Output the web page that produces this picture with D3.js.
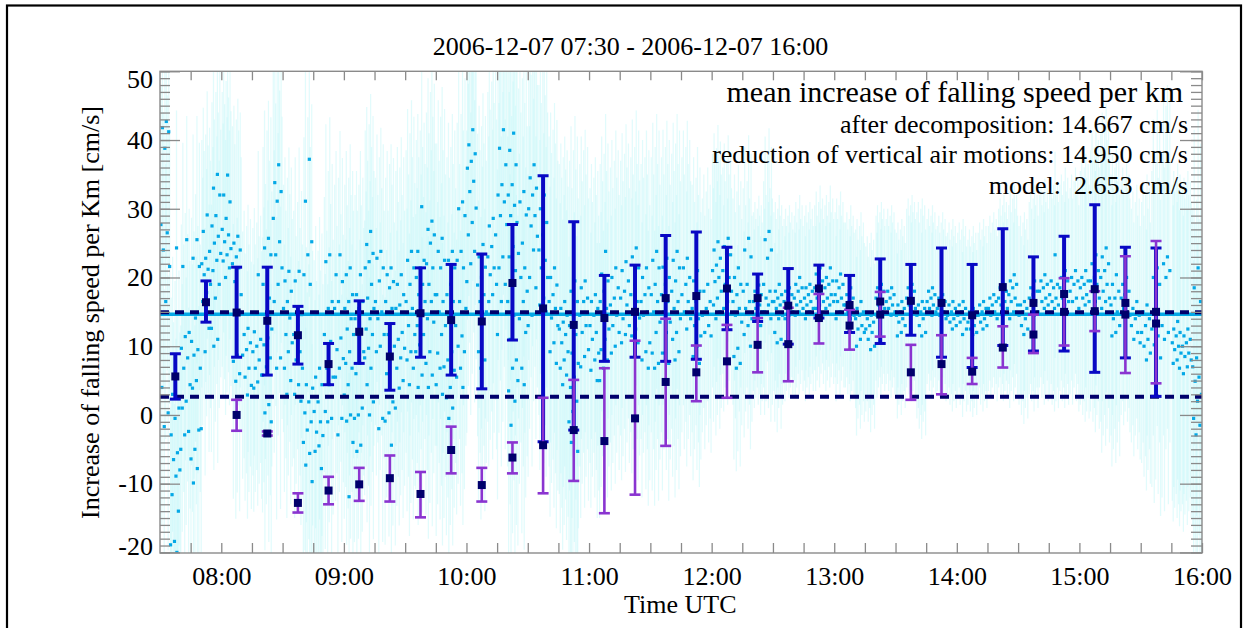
<!DOCTYPE html>
<html>
<head>
<meta charset="utf-8">
<script src="https://cdn.jsdelivr.net/npm/d3@7"></script>
<style>
  html, body { margin: 0; padding: 0; background: #fff; }
  svg { display: block; font-family: "Liberation Serif", "Times New Roman", serif; }
</style>
</head>
<body>
<svg id="chart" width="1253" height="628"></svg>
<script>
// reference lines (cm/s per km)
const meanDecomposition = 14.667;
const meanReduction = 14.950;
const meanModel = 2.653;

// 15-minute bins
const binTimes = ['07:37:30', '07:52:30', '08:07:30', '08:22:30', '08:37:30', '08:52:30', '09:07:30', '09:22:30',
    '09:37:30', '09:52:30', '10:07:30', '10:22:30', '10:37:30', '10:52:30', '11:07:30', '11:22:30', '11:37:30',
    '11:52:30', '12:07:30', '12:22:30', '12:37:30', '12:52:30', '13:07:30', '13:22:30', '13:37:30', '13:52:30',
    '14:07:30', '14:22:30', '14:37:30', '14:52:30', '15:07:30', '15:22:30', '15:37:30'];

const blueMean = [5.6, 16.4, 14.9, 13.7, 11.6, 7.4, 12.1, 8.5, 14.8, 13.8, 13.6, 19.2, 15.5, 13.1, 14.1, 15.0, 17.0,
    17.3, 18.4, 17.0, 15.9, 18.4, 16.0, 16.5, 16.6, 16.3, 14.5, 18.6, 16.3, 17.6, 18.3, 16.3, 15.0];
const blueHigh = [8.9, 19.5, 21.5, 21.5, 15.8, 10.4, 16.6, 13.3, 21.4, 21.9, 23.4, 27.7, 34.8, 28.1, 20.3, 21.8, 26.1,
    26.6, 24.4, 20.5, 21.3, 21.8, 20.3, 22.7, 21.9, 24.3, 21.9, 27.1, 23.0, 26.0, 30.6, 24.4, 24.3];
const blueLow = [2.3, 13.5, 8.4, 5.8, 7.4, 4.4, 7.5, 3.6, 8.4, 5.8, 3.8, 10.9, -3.9, -2.2, 7.8, 8.4, 7.8,
    8.1, 12.4, 13.6, 10.3, 14.1, 12.0, 10.4, 11.6, 8.4, 6.9, 10.1, 9.3, 9.3, 6.2, 8.3, 2.7];

const purpleMean = [null, null, 0.0, -2.7, -12.8, -11.0, -10.1, -9.2, -11.5, -5.1, -10.2, -6.2, -4.4, -2.2, -3.8, -0.5,
    4.8, 6.2, 7.8, 10.2, 10.3, 14.1, 13.0, 14.6, 6.2, 7.4, 6.3, 9.8, 11.7, 15.0, 15.1, 14.6, 13.3];
const purpleHigh = [null, null, 2.2, -2.4, -11.4, -9.0, -7.7, -5.9, -8.3, -1.7, -7.7, -4.0, 2.5, 5.1, 6.8, 10.8,
    14.0, 10.1, 13.1, 14.1, 15.6, 17.6, 15.3, 17.9, 10.2, 11.6, 8.3, 12.9, 14.6, 19.9, 18.0, 23.1, 25.3];
const purpleLow = [null, null, -2.3, -3.0, -14.2, -13.0, -12.5, -12.6, -14.9, -8.5, -12.6, -8.5, -11.4, -9.6, -14.3, -11.6,
    -4.5, 2.0, 2.5, 6.2, 4.9, 10.4, 9.5, 11.4, 2.2, 3.0, 4.5, 6.9, 9.0, 10.1, 12.2, 6.1, 4.6];

// single measurements, grouped in 5-minute slots starting 07:30
const scatterStart = '07:30:00';
const scatterSlotMinutes = 5;
const scatterValues = [
    [42.7, 41.8, 41.2, 38.8, 27.7, 26.5, 24.0, 21.6, 16.5, 4.0, 0.3, -1.7],
    [24.3, 3.0, 1.0, -0.5, -2.9, -5.5, -6.5, -8.0, -8.9, -11.6, -14.0, -18.4, -18.9, -20.0],
    [25.5, 21.6, 12.0, 11.4, 9.7, 8.3, 6.8, 4.4, 2.0, 1.0, -2.4, -2.9, -5.0],
    [25.5, 22.8, 21.6, 14.1, 10.7, 9.5, 8.7, 6.8, 5.0, 3.9, -2.2, -5.0, -6.4, -7.8, -9.9],
    [29.1, 26.7, 23.8, 22.8, 22.0, 21.2, 20.4, 19.0, 17.8, 16.5, 12.6, 9.2, -2.0],
    [35.0, 33.0, 32.0, 29.0, 27.5, 26.0, 25.0, 23.5, 22.5, 21.0, 19.0, 17.0, 12.6, 11.0, 10.0],
    [34.9, 32.0, 31.0, 28.6, 27.0, 26.2, 25.2, 24.2, 23.3, 22.4, 21.4, 20.0],
    [26.0, 25.0, 24.0, 23.0, 22.0, 21.4, 19.4, 17.5, 8.7, 7.8, 6.0, 4.9],
    [12.6, 11.7, 10.5, 9.5, 8.7, 6.8, 5.5, 4.3, 2.9],
    [20.4, 12.1, 11.0, 10.0, 9.2, 8.0, 6.8, 5.8, 4.8, 3.9],
    [25.7, 24.3, 23.3, 21.4, 19.0, 17.0, 13.6, 12.5, 11.2, 10.2, 8.3, 7.0, 5.8, 1.5, 0.3, -1.0],
    [36.4, 33.8, 32.5, 31.1, 28.6, 25.2, 23.3, 21.4, 19.0, 16.5, 8.3, 6.8],
    [20.9, 19.5, 18.0, 16.5, 15.5, 14.1, 11.7, 10.5, 9.2, 6.8, 5.0, 3.0],
    [20.9, 19.5, 14.6, 13.0, 11.7, 9.2, 8.0, 6.8, 4.4, 3.0, 2.0],
    [37.2, 31.1, 25.2, 23.3, 20.4, 19.0, 4.4, 3.9, 1.9, 0.3, -1.0, -2.2, -4.0, -5.6, -7.3, -9.7],
    [6.8, 5.5, 4.4, 1.9, 0.5, -1.0, -2.5, -3.0, -4.5, -5.3, -7.8],
    [23.3, 22.3, 16.5, 15.5, 11.7, 10.7, 6.8, 5.5, 4.4, 0.5, -0.5, -1.0],
    [23.3, 20.4, 19.4, 16.5, 15.5, 11.2, 9.5, 8.2, 6.8, 5.5, -0.5, -2.9],
    [21.4, 20.4, 17.5, 16.5, 15.5, 14.0, 12.5, 11.7, 9.2, 7.5, 6.8, 4.4, 2.9, 0.0, -0.9, -4.0, -11.9],
    [20.4, 17.5, 16.5, 15.5, 14.0, 12.5, 11.7, 9.2, 7.5, 6.0, 1.0, 0.0, -0.5, -4.4, -5.3],
    [26.7, 24.8, 23.5, 22.3, 21.4, 19.0, 17.0, 15.5, 14.0, 12.5, 11.7, 9.7, 8.3, 6.8, 4.4, 1.9, 0.0],
    [23.8, 22.8, 21.4, 19.5, 16.5, 15.0, 14.0, 11.7, 10.0, 9.2, -0.5, -2.0],
    [21.4, 20.4, 19.4, 18.5, 16.5, 15.5, 11.7, 10.0, 8.5, 6.0, 1.9, 0.3, -0.9, -4.4],
    [20.4, 19.0, 17.5, 16.0, 15.5, 12.0, 11.0, 9.7, 8.3, 6.8, 5.0, 3.9, 1.0],
    [23.8, 22.5, 21.4, 19.0, 16.5, 15.5, 13.0, 11.7, 9.2, 8.0, 6.8, 4.4],
    [30.3, 23.8, 22.5, 21.4, 20.0, 19.0, 17.5, 16.5, 15.0, 13.0, 11.7, 10.2, 9.2, 5.8, 4.0],
    [28.2, 27.0, 26.2, 25.0, 22.0, 21.4, 19.0, 17.5, 16.5, 14.0, 13.5, 9.2, 7.5, 5.8, 4.0],
    [25.7, 23.8, 22.5, 21.4, 17.5, 16.5, 15.0, 13.0, 11.7, 9.0, 7.0, 6.8, 4.4, 3.0],
    [23.8, 22.5, 21.4, 19.0, 17.5, 16.5, 14.5, 13.0, 9.2, 8.0, 6.5, 4.0, 2.5, 1.0, -0.5],
    [31.0, 30.0, 29.0, 23.8, 22.5, 21.4, 16.5, 15.5, 11.5, 10.0, 9.2, 6.8, 5.5, 4.0],
    [41.5, 39.3, 38.0, 36.9, 35.9, 34.0, 32.5, 30.1, 28.0, 26.2, 23.8, 22.0, 19.4],
    [24.8, 23.0, 21.5, 20.0, 18.9, 17.5, 16.5, 15.0, 14.1, 9.2, 8.0, 6.8],
    [28.6, 27.5, 26.2, 24.5, 23.0, 21.4, 20.4, 19.0, 17.5, 16.5],
    [41.5, 38.8, 36.4, 33.5, 32.0, 31.0, 29.0, 27.7, 23.0, 21.4, 19.0, 16.5, 11.7],
    [41.0, 38.5, 36.4, 33.5, 32.0, 30.5, 29.0, 28.0, 24.5, 23.0, 21.0, 19.5, 16.5, 14.5, 11.0, 8.0, 6.8, 3.5, 2.0, -1.5],
    [32.5, 31.0, 29.1, 25.0, 23.5, 21.4, 20.0, 18.0, 16.5, 14.0, 12.0, 6.8, 5.0, 4.4],
    [36.4, 34.5, 33.0, 32.0, 30.0, 29.0, 27.5, 26.0, 24.0, 20.0, 18.5, 14.5, 13.0],
    [32.0, 30.0, 28.0, 26.2, 24.0, 22.5, 21.4, 20.0, 17.0, 16.0, 15.0],
    [21.4, 20.0, 18.9, 17.5, 16.5, 15.5, 14.1, 13.0, 10.5, 9.2, 7.5],
    [16.5, 15.5, 14.5, 13.5, 12.5, 11.7, 10.5, 9.2, 8.0, 6.8, 5.8, 4.4],
    [19.5, 18.0, 16.5, 14.5, 13.0, 11.7, 9.0, 7.5, 5.5, 4.0, 2.0, 0.5, -1.0, -2.5, -4.0, -5.3],
    [19.5, 18.5, 17.0, 16.5, 14.5, 13.0, 12.0, 9.5, 8.5, 7.0],
    [17.5, 16.5, 15.5, 14.5, 13.0, 12.0, 11.0, 9.0, 8.0, 6.5, 5.0],
    [23.8, 20.5, 19.5, 18.0, 16.5, 15.5, 14.0, 12.5, 11.0, 9.5, 8.0, 6.8, 5.0],
    [21.4, 20.0, 18.5, 17.0, 16.0, 14.5, 13.0, 12.0, 10.0, 9.0],
    [22.3, 21.0, 19.5, 18.0, 17.0, 16.0, 14.0, 13.0, 11.7, 10.5],
    [24.3, 23.0, 21.4, 19.0, 17.5, 16.5, 15.0, 14.1, 12.5, 11.5, 10.5],
    [21.4, 20.0, 18.5, 17.5, 16.5, 15.0, 14.5, 10.5, 9.2, 8.0, 6.8],
    [23.8, 22.5, 21.4, 19.0, 17.5, 16.5, 15.0, 13.5, 12.0, 9.0, 7.5, 6.8],
    [22.8, 21.5, 20.0, 19.0, 17.5, 16.5, 15.0, 13.5, 12.0, 9.0, 7.5],
    [23.8, 22.5, 21.4, 19.5, 18.0, 16.5, 15.5, 14.0, 12.0, 11.0, 9.2, 8.0],
    [22.8, 21.4, 20.0, 19.0, 17.5, 16.5, 15.0, 14.0, 12.5],
    [21.0, 19.5, 18.0, 16.5, 15.5, 14.0, 13.0, 11.5, 10.0, 8.5, 7.5],
    [19.0, 18.0, 16.5, 15.5, 14.5, 13.0, 12.0, 11.5],
    [25.2, 24.0, 22.8, 21.8, 21.0, 20.0, 19.4, 18.0, 17.0, 16.0, 15.0, 14.0],
    [25.7, 24.5, 23.3, 22.0, 21.0, 20.0, 19.0, 18.0, 16.5, 15.5],
    [21.4, 20.0, 19.0, 17.5, 16.5, 15.5, 14.5, 13.5, 9.7, 8.5, 7.5, 6.8],
    [25.7, 24.0, 23.0, 19.0, 18.0, 16.5, 15.5, 14.0, 13.0, 11.7, 10.0],
    [18.9, 18.0, 17.5, 17.0, 16.5, 16.0, 15.5, 15.0, 14.5, 14.0, 13.0],
    [26.7, 25.5, 24.0, 22.8, 19.0, 18.0, 17.0, 16.5, 16.0, 15.0, 14.0],
    [19.0, 18.0, 17.5, 17.0, 16.5, 16.0, 15.5, 14.5, 14.0, 12.0, 11.0, 10.5],
    [18.5, 18.0, 17.5, 17.0, 16.5, 16.0, 15.5, 15.0, 14.5, 14.0],
    [20.0, 19.0, 18.5, 18.0, 17.0, 16.5, 16.0, 15.5, 15.0, 14.5],
    [19.0, 18.5, 18.0, 17.5, 17.0, 16.5, 16.0, 15.5, 15.0, 14.0],
    [21.4, 20.5, 19.5, 19.0, 18.5, 18.0, 17.0, 16.5, 16.0, 15.5],
    [21.4, 20.0, 19.5, 19.0, 18.5, 17.5, 17.0, 16.5, 16.0, 15.5],
    [20.5, 19.5, 19.0, 18.5, 17.5, 17.0, 16.5, 16.0, 15.0, 14.0],
    [18.5, 17.5, 17.0, 16.5, 16.0, 15.5, 15.0, 14.5, 14.0],
    [16.5, 15.5, 15.0, 14.5, 14.0, 13.0, 12.5, 12.0, 11.0, 10.0],
    [14.5, 14.0, 13.5, 13.0, 12.5, 12.0, 11.0, 10.0, 9.5],
    [19.0, 18.5, 18.0, 17.5, 17.0, 16.5, 16.0, 15.5, 15.0, 14.5],
    [18.5, 18.0, 17.5, 17.0, 16.5, 16.0, 15.5, 15.0, 14.5],
    [16.5, 16.0, 15.5, 15.0, 14.5, 14.0, 13.5, 13.0, 12.0, 11.5],
    [19.0, 18.5, 18.0, 17.5, 17.0, 16.5, 16.0, 15.5, 15.0],
    [16.5, 16.0, 15.5, 15.0, 14.5, 14.0, 13.0, 12.0, 11.5],
    [18.5, 18.0, 17.5, 17.0, 16.5, 16.0, 15.5, 15.0, 14.5],
    [17.5, 17.0, 16.5, 16.0, 15.5, 15.0, 14.5, 14.0],
    [16.5, 16.0, 15.5, 15.0, 14.5, 14.0, 13.5, 13.0, 12.5],
    [16.5, 16.0, 15.5, 15.0, 14.5, 14.0, 13.5, 12.5, 11.7],
    [15.5, 15.0, 14.5, 14.0, 13.5, 13.0, 12.5, 12.0, 11.7],
    [16.5, 16.0, 15.5, 15.0, 14.5, 14.0, 13.5, 13.0, 12.5],
    [17.5, 17.0, 16.5, 16.0, 15.5, 15.0, 14.5, 14.0],
    [19.0, 18.5, 18.0, 17.5, 17.0, 16.5, 16.0, 15.5, 15.0],
    [20.4, 19.5, 19.0, 18.5, 17.5, 17.0, 16.5, 16.0, 15.0, 14.0],
    [16.5, 16.0, 15.5, 15.0, 14.5, 14.0, 13.0, 12.5, 11.7],
    [19.5, 18.5, 18.0, 17.5, 17.0, 16.5, 16.0, 15.0, 14.5],
    [20.4, 19.5, 19.0, 18.5, 18.0, 17.0, 16.5, 16.0, 15.5],
    [23.3, 19.5, 19.0, 18.5, 17.5, 17.0, 16.5, 16.0, 15.5],
    [21.0, 20.0, 19.5, 19.0, 18.5, 17.5, 17.0, 16.5, 16.0],
    [21.0, 20.0, 19.5, 19.0, 18.0, 17.0, 16.5, 15.5],
    [21.0, 20.0, 19.5, 19.0, 18.5, 17.5, 17.0, 16.5, 16.0],
    [23.3, 22.0, 21.0, 20.0, 19.5, 19.0, 18.0, 17.0, 16.5],
    [24.3, 23.0, 22.0, 21.0, 20.0, 19.0, 18.0, 17.0, 16.5, 15.5],
    [20.4, 19.0, 18.0, 17.0, 16.0, 15.0, 14.0, 13.0, 12.0, 11.5],
    [20.0, 19.0, 18.0, 17.5, 17.0, 16.0, 15.5, 14.5],
    [16.5, 15.5, 14.5, 14.0, 13.0, 12.0, 11.0, 10.5],
    [16.0, 15.0, 14.0, 13.0, 12.0, 11.0, 10.0, 9.0, 8.0],
    [21.4, 20.0, 19.0, 13.6, 12.5, 11.5, 10.2, 8.3],
    [23.0, 22.0, 21.0, 20.0, 13.0, 12.0, 11.0],
    [13.6, 12.5, 12.0, 11.5, 10.5, 10.0, 9.5, 9.0, 8.0, 7.5, 6.8],
    [12.5, 11.5, 11.0, 10.5, 10.0, 9.0, 8.5, 8.0, 7.0, 6.0],
    [21.4, 18.5, 16.5, 8.3, 7.0, 5.5, 4.9, 3.0, 2.0, -0.5, -1.5, -2.9]
];
// half-width of each measurement's error bar, per slot
const scatterErr = [20, 20, 18, 18, 18, 18, 20, 20, 18, 18, 20, 22, 18, 18, 20, 22, 20, 18,
    18, 18, 20, 18, 18, 20, 22, 20, 22, 22, 20, 20,
    22, 22, 24, 24, 24, 24, 22, 24, 24, 24, 24, 22,
    20, 20, 20, 20, 20, 20, 20, 20, 20, 20, 18, 17,
    17, 15, 15, 15, 13, 15, 13, 12, 12, 12, 12, 12,
    12, 12, 13, 12, 12, 12, 12, 13, 15, 12, 12, 12,
    12, 12, 12, 12, 13, 13, 13, 14, 14, 15, 15, 15,
    17, 19, 21, 19, 17, 17, 19, 23, 25, 23, 23, 23];

const timeDomain = ['07:30:00', '16:00:00'];
const yDomain = [-20, 50];

const legendTitle = 'mean increase of falling speed per km';
const legendLines = [
    'after decomposition: ' + meanDecomposition.toFixed(3) + ' cm/s',
    'reduction of vertical air motions: ' + meanReduction.toFixed(3) + ' cm/s',
    'model:  ' + meanModel.toFixed(3) + ' cm/s'
];

const parseT = s => {
    const [h, m, sec] = s.split(':').map(Number);
    return new Date(Date.UTC(2006, 11, 7, h, m, sec || 0));
};

const FONT = '"Liberation Serif", "Times New Roman", serif';
const svg = d3.select('#chart');
const M = { left: 160, right: 1202, top: 71.3, bottom: 553 };

const x = d3.scaleUtc().domain(timeDomain.map(parseT)).range([M.left, M.right]);
const y = d3.scaleLinear().domain(yDomain).range([552.4, M.top]);

const hazeColor = '#c4f7f9';
const dotColor = '#04a8e6';
const blueColor = '#0808c4';
const purpleColor = '#8a34d0';
const navy = '#00006c';
const axisColor = '#8a8a8a';

// outer border
svg.append('rect')
    .attr('x', 7).attr('y', 5.5)
    .attr('width', 1234).attr('height', 700)
    .attr('fill', 'none').attr('stroke', '#000').attr('stroke-width', 2.2);

svg.append('defs').append('clipPath').attr('id', 'plot-clip')
    .append('rect')
    .attr('x', M.left).attr('y', M.top)
    .attr('width', M.right - M.left).attr('height', M.bottom - M.top);

// flatten the measurements, spread inside their slot
const t0 = parseT(scatterStart).getTime();
const points = [];
scatterValues.forEach((vals, s) => {
    vals.forEach((v, j) => {
        const frac = ((j + 1) * 0.6180339887) % 1;
        const ms = t0 + (s + frac) * scatterSlotMinutes * 60000;
        points.push({ t: new Date(ms), v: v, err: scatterErr[s] });
    });
});

const plot = svg.append('g').attr('clip-path', 'url(#plot-clip)');

// light error bars of each measurement
plot.append('g')
    .selectAll('line')
    .data(points)
    .join('line')
    .attr('x1', d => x(d.t)).attr('x2', d => x(d.t))
    .attr('y1', d => y(d.v + d.err)).attr('y2', d => y(d.v - d.err))
    .attr('stroke', hazeColor)
    .attr('stroke-opacity', 0.5)
    .attr('stroke-width', 1.2);

plot.append('g')
    .selectAll('rect')
    .data(points)
    .join('rect')
    .attr('x', d => x(d.t) - 1.6).attr('y', d => y(d.v) - 1.6)
    .attr('width', 3.2).attr('height', 3.2)
    .attr('fill', dotColor);

// horizontal means
plot.append('line')
    .attr('x1', M.left).attr('x2', M.right)
    .attr('y1', y(meanDecomposition)).attr('y2', y(meanDecomposition))
    .attr('stroke', dotColor).attr('stroke-width', 3.5);

[meanReduction, meanModel].forEach(v => {
    plot.append('line')
        .attr('x1', M.left).attr('x2', M.right)
        .attr('y1', y(v)).attr('y2', y(v))
        .attr('stroke', navy).attr('stroke-width', 4)
        .attr('stroke-dasharray', '9,6');
});

// binned error bars
const bins = binTimes.map((s, i) => ({
    t: parseT(s),
    blue: [blueLow[i], blueMean[i], blueHigh[i]],
    purple: purpleMean[i] === null ? null : [purpleLow[i], purpleMean[i], purpleHigh[i]]
}));

function errorBars(g, data, acc, color, width, capW, capT) {
    const sel = g.append('g').selectAll('g').data(data.filter(d => acc(d))).join('g');
    sel.append('line')
        .attr('x1', d => x(d.t)).attr('x2', d => x(d.t))
        .attr('y1', d => y(acc(d)[0])).attr('y2', d => y(acc(d)[2]))
        .attr('stroke', color).attr('stroke-width', width);
    [0, 2].forEach(k => {
        sel.append('line')
            .attr('x1', d => x(d.t) - capW / 2).attr('x2', d => x(d.t) + capW / 2)
            .attr('y1', d => y(acc(d)[k])).attr('y2', d => y(acc(d)[k]))
            .attr('stroke', color).attr('stroke-width', capT);
    });
}

errorBars(plot, bins, d => d.blue, blueColor, 4, 11, 3);
errorBars(plot, bins, d => d.purple, purpleColor, 2.6, 11, 2.6);

const markers = [];
bins.forEach(b => {
    markers.push({ t: b.t, v: b.blue[1] });
    if (b.purple) markers.push({ t: b.t, v: b.purple[1] });
});
plot.append('g')
    .selectAll('rect')
    .data(markers)
    .join('rect')
    .attr('x', d => x(d.t) - 4).attr('y', d => y(d.v) - 4)
    .attr('width', 8).attr('height', 8)
    .attr('fill', navy);

// axes
function styleAxis(g) {
    g.attr('font-family', FONT);
    g.select('.domain').remove();
    g.selectAll('.tick line').attr('stroke', axisColor).attr('stroke-width', 1.3);
    g.selectAll('text')
        .attr('fill', '#000')
        .attr('font-size', 26)
        .attr('font-family', FONT);
}

const xTicks = d3.utcMinute.every(15).range(parseT('07:45:00'), parseT('16:00:01'));
const hourFmt = d3.utcFormat('%H:%M');

svg.append('g')
    .attr('transform', `translate(0,${M.bottom})`)
    .call(d3.axisBottom(x).tickValues(xTicks).tickSizeInner(-10).tickSizeOuter(0).tickPadding(13.5)
        .tickFormat(d => d.getUTCMinutes() === 0 ? hourFmt(d) : ''))
    .call(styleAxis);

svg.append('g')
    .attr('transform', `translate(0,${M.top})`)
    .call(d3.axisTop(x).tickValues(xTicks).tickSizeInner(-9).tickSizeOuter(0).tickFormat(''))
    .call(styleAxis);

const yMinor = d3.range(yDomain[0], yDomain[1] + 1, 1);
const yMajor = d3.range(yDomain[0], yDomain[1] + 1, 10);

svg.append('g')
    .attr('transform', `translate(${M.left},0)`)
    .call(d3.axisLeft(y).tickValues(yMinor).tickSizeInner(-10).tickSizeOuter(0).tickFormat(''))
    .call(styleAxis);

svg.append('g')
    .attr('transform', `translate(${M.left},0)`)
    .call(d3.axisLeft(y).tickValues(yMajor).tickSizeInner(-20).tickSizeOuter(0).tickPadding(7)
        .tickFormat(d => String(d)))
    .call(styleAxis)
    .call(g => g.selectAll('text')
        .attr('y', d => d === yDomain[1] ? 7.5 : d === yDomain[0] ? -6.5 : 0));

svg.append('g')
    .attr('transform', `translate(${M.right},0)`)
    .call(d3.axisRight(y).tickValues(yMinor).tickSizeInner(-11).tickSizeOuter(0).tickFormat(''))
    .call(styleAxis);

svg.append('g')
    .attr('transform', `translate(${M.right},0)`)
    .call(d3.axisRight(y).tickValues(yMajor).tickSizeInner(-22).tickSizeOuter(0).tickFormat(''))
    .call(styleAxis);

svg.append('rect')
    .attr('x', M.left).attr('y', M.top)
    .attr('width', M.right - M.left).attr('height', M.bottom - M.top)
    .attr('fill', 'none').attr('stroke', axisColor).attr('stroke-width', 1.4);

// texts
const texts = svg.append('g').attr('font-family', FONT).attr('fill', '#000');

texts.append('text')
    .attr('x', 630.5).attr('y', 54.5)
    .attr('text-anchor', 'middle')
    .attr('font-size', 26)
    .text('2006-12-07 07:30 - 2006-12-07 16:00');

texts.append('text')
    .attr('transform', 'translate(99,312.5) rotate(-90)')
    .attr('text-anchor', 'middle')
    .attr('font-size', 26)
    .text('Increase of falling speed per Km [cm/s]');

texts.append('text')
    .attr('x', 680.3).attr('y', 613)
    .attr('text-anchor', 'middle')
    .attr('font-size', 26)
    .text('Time UTC');

texts.append('text')
    .attr('x', 1183).attr('y', 101.5)
    .attr('text-anchor', 'end')
    .attr('font-size', 30)
    .text(legendTitle);

const legendY = [132.5, 162.5, 194];
legendLines.forEach((s, i) => {
    texts.append('text')
        .attr('x', 1188).attr('y', legendY[i])
        .attr('text-anchor', 'end')
        .attr('font-size', 26)
        .style('white-space', 'pre')
        .text(s);
});
</script>
</body>
</html>
